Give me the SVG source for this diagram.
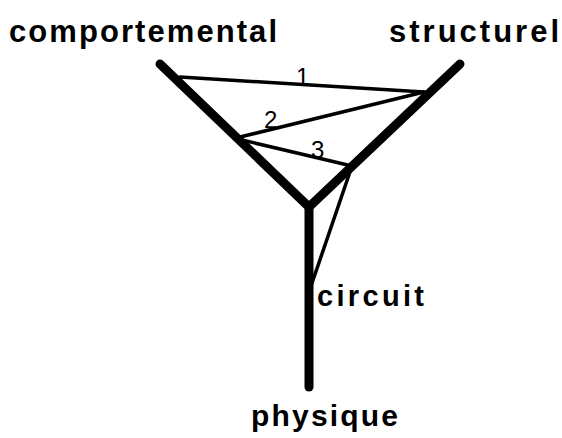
<svg xmlns="http://www.w3.org/2000/svg" width="562" height="438" viewBox="0 0 562 438">
<style>
.lbl{font-family:"Liberation Sans",Arial,sans-serif;font-weight:bold;font-size:31px;fill:#000}
.num{font-family:"Liberation Sans",Arial,sans-serif;font-size:24px;fill:#000}
.axis{stroke:#000;stroke-width:9;stroke-linecap:round;stroke-linejoin:round;fill:none}
.thin{stroke:#000;stroke-width:3.5;stroke-linecap:round;fill:none}
</style>
<rect width="562" height="438" fill="#fff"/>
<g id="axes">
<polyline class="axis" points="160,64 309,207 460,64"/>
<line class="axis" x1="309" y1="207" x2="309" y2="387" stroke-width="7"/>
</g>
<g id="connectors">
<line class="thin" x1="180" y1="77" x2="424" y2="92"/>
<line class="thin" x1="240" y1="137" x2="424" y2="92"/>
<line class="thin" x1="242" y1="140" x2="352" y2="166"/>
<line class="thin" x1="352" y1="166" x2="311" y2="286"/>
</g>
<g id="comportemental"><text class="lbl" x="9" y="42" textLength="268" lengthAdjust="spacing">comportemental</text></g>
<g id="structurel"><text class="lbl" x="389" y="42" textLength="170" lengthAdjust="spacing">structurel</text></g>
<g id="circuit"><text class="lbl" x="317" y="306" textLength="107" lengthAdjust="spacing" style="font-size:29px">circuit</text></g>
<g id="physique"><text class="lbl" x="251" y="426" textLength="147" lengthAdjust="spacing" style="font-size:30px">physique</text></g>
<g id="labels">
<text class="num" x="296" y="85">1</text>
<text class="num" x="264" y="128">2</text>
<text class="num" x="311" y="158">3</text>
</g>
</svg>
